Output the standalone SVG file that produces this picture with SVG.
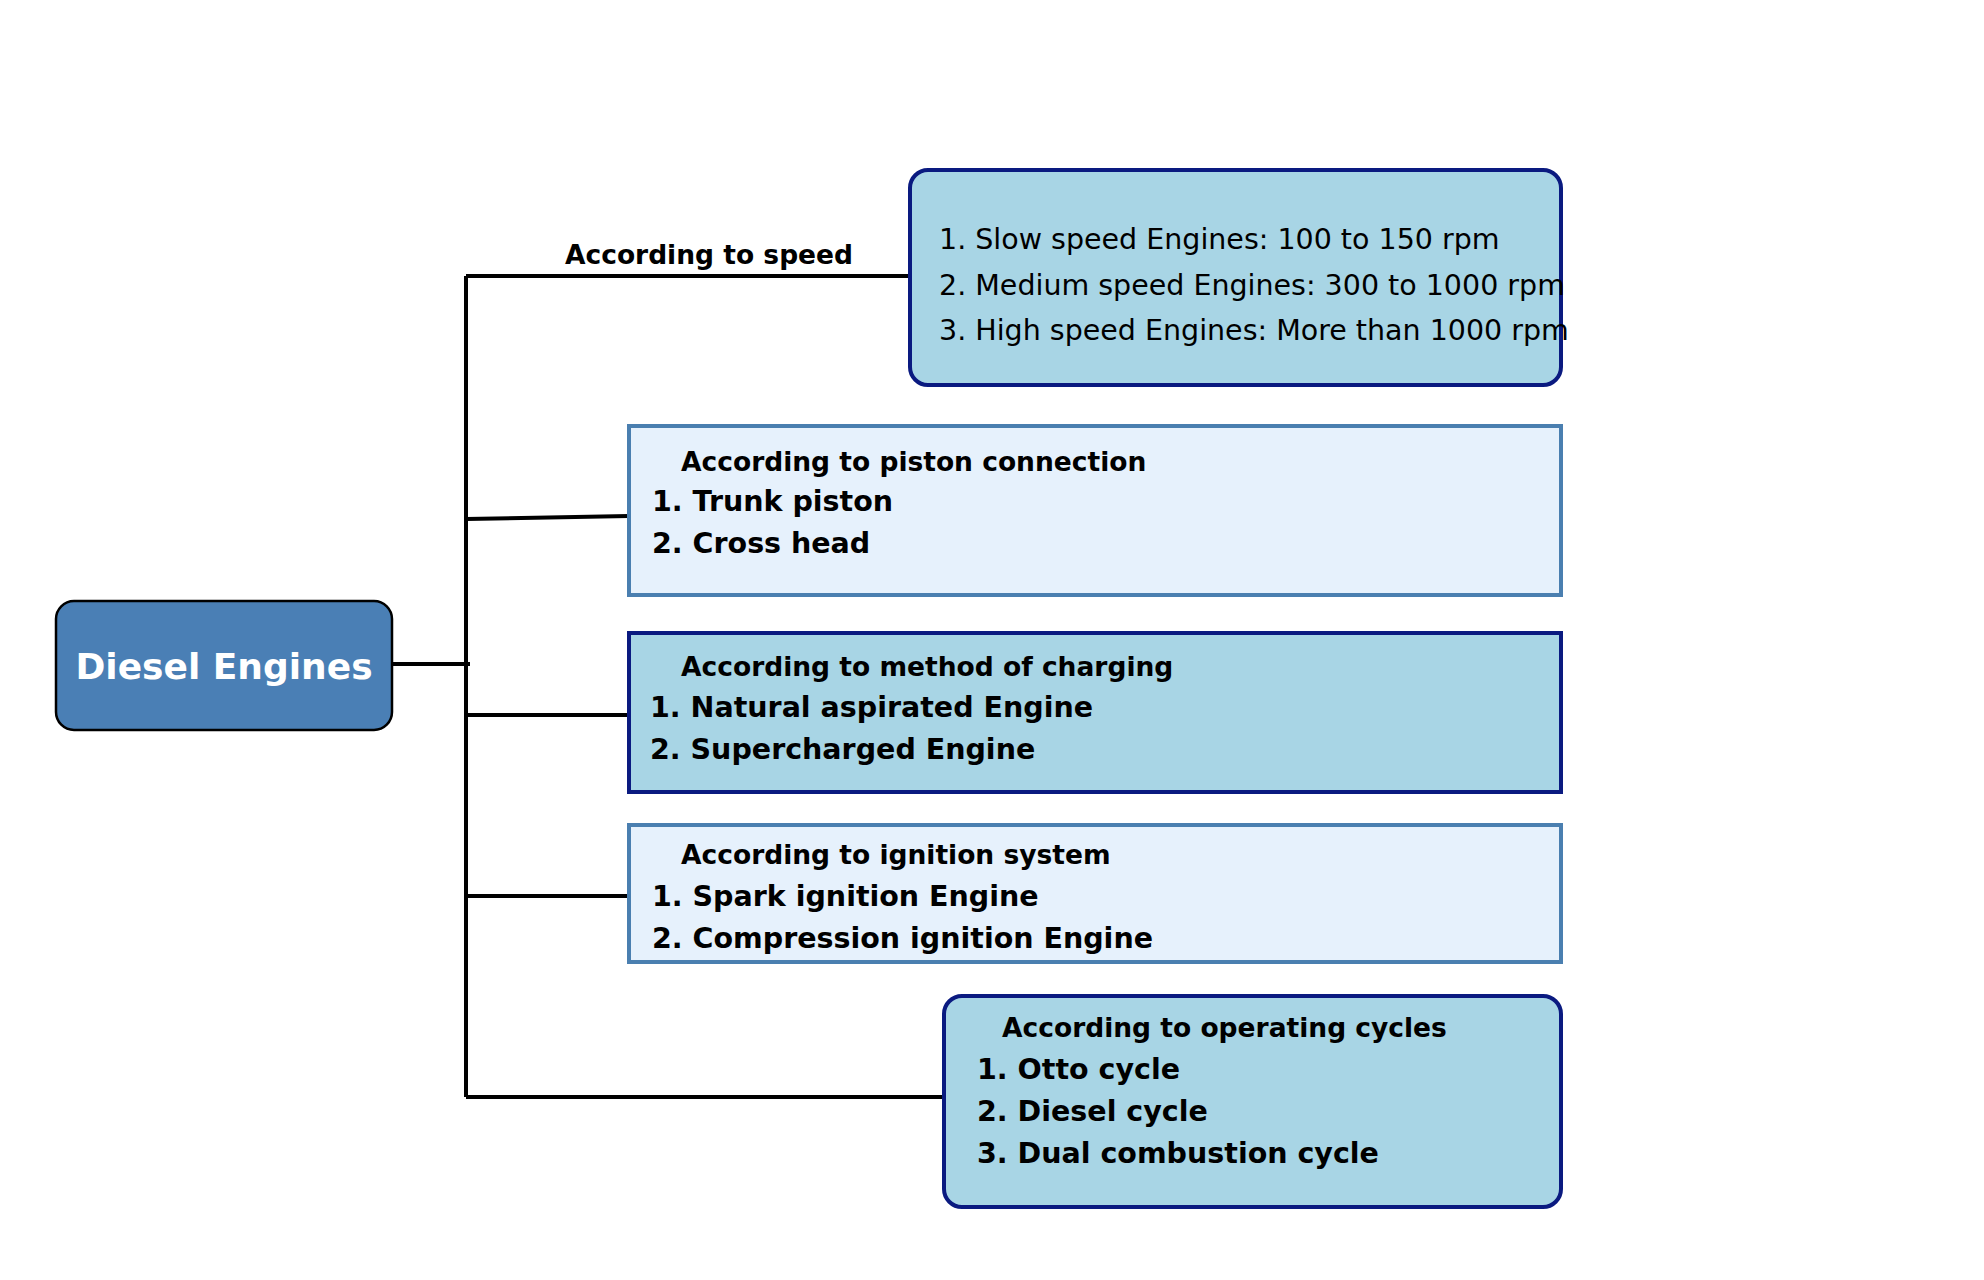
<svg xmlns="http://www.w3.org/2000/svg" width="1984" height="1280" viewBox="0 0 1984 1280">
<style>
text{font-family:"DejaVu Sans",sans-serif;dominant-baseline:central;fill:#000}
.t{font-size:26.5px;font-weight:bold}
.i{font-size:28.5px;font-weight:bold}
.n{font-size:28.5px}
.dark{fill:#a8d5e5;stroke:#0a1a80;stroke-width:4}
.light{fill:#e6f1fc;stroke:#4a7fb0;stroke-width:4}
.c{fill:none;stroke:#000;stroke-width:4}
</style>
<rect width="1984" height="1280" fill="#fff"/>
<g id="connectors">
<path class="c" d="M466 276 V1097"/>
<path class="c" d="M392 664 H470"/>
<path class="c" d="M466 276 H910"/>
<path class="c" d="M466 519 L629 516"/>
<path class="c" d="M466 715 H629"/>
<path class="c" d="M466 896 H629"/>
<path class="c" d="M466 1097 H944"/>
<text x="709" y="254" class="t" text-anchor="middle">According to speed</text>
</g>
<g id="root">
<rect x="56" y="601" width="336" height="129" rx="18" fill="#4a7fb5" stroke="#000" stroke-width="2.5"/>
<text x="224" y="666" font-size="36" font-weight="bold" text-anchor="middle" style="fill:#fff">Diesel Engines</text>
</g>
<g id="speed">
<rect x="910" y="170" width="651" height="215" rx="18" class="dark"/>
<text x="939" y="239" class="n">1. Slow speed Engines: 100 to 150 rpm</text>
<text x="939" y="285" class="n">2. Medium speed Engines: 300 to 1000 rpm</text>
<text x="939" y="330" class="n">3. High speed Engines: More than 1000 rpm</text>
</g>
<g id="piston">
<rect x="629" y="426" width="932" height="169" class="light"/>
<text x="681" y="461" class="t">According to piston connection</text>
<text x="652" y="501" class="i">1. Trunk piston</text>
<text x="652" y="543" class="i">2. Cross head</text>
</g>
<g id="charging">
<rect x="629" y="633" width="932" height="159" class="dark"/>
<text x="681" y="666" class="t">According to method of charging</text>
<text x="650" y="707" class="i">1. Natural aspirated Engine</text>
<text x="650" y="749" class="i">2. Supercharged Engine</text>
</g>
<g id="ignition">
<rect x="629" y="825" width="932" height="137" class="light"/>
<text x="681" y="854" class="t">According to ignition system</text>
<text x="652" y="896" class="i">1. Spark ignition Engine</text>
<text x="652" y="938" class="i">2. Compression ignition Engine</text>
</g>
<g id="cycles">
<rect x="944" y="996" width="617" height="211" rx="18" class="dark"/>
<text x="1002" y="1027" class="t">According to operating cycles</text>
<text x="977" y="1069" class="i">1. Otto cycle</text>
<text x="977" y="1111" class="i">2. Diesel cycle</text>
<text x="977" y="1153" class="i">3. Dual combustion cycle</text>
</g>
</svg>
